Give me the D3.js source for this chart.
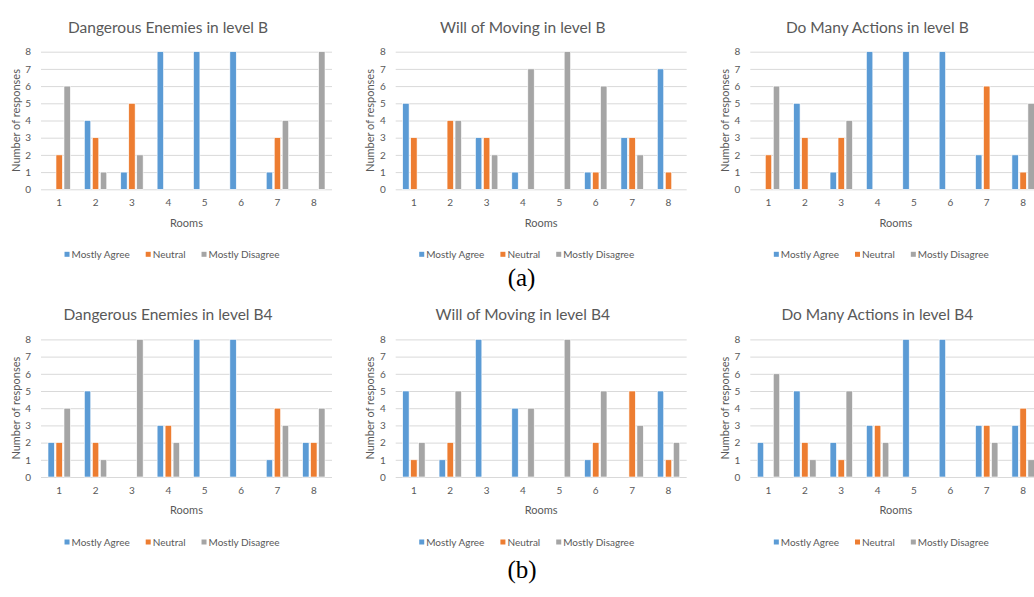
<!DOCTYPE html>
<html>
<head>
<meta charset="utf-8">
<script src="https://cdn.jsdelivr.net/npm/d3@7"></script>
<style>
  body { margin: 0; background: #fff; }
  svg { display: block; }
</style>
</head>
<body>
<svg id="drawing_region"></svg>
<script>
// rooms on x axis and the three answer series
const rooms = ["1", "2", "3", "4", "5", "6", "7", "8"];
const series = ["Mostly Agree", "Neutral", "Mostly Disagree"];
const yticks = [0, 1, 2, 3, 4, 5, 6, 7, 8];

// each panel: [agree, neutral, disagree] per room
const dangerB = [
    [0, 4, 1, 8, 8, 8, 1, 0],
    [2, 3, 5, 0, 0, 0, 3, 0],
    [6, 1, 2, 0, 0, 0, 4, 8]
];
const movingB = [
    [5, 0, 3, 1, 0, 1, 3, 7],
    [3, 4, 3, 0, 0, 1, 3, 1],
    [0, 4, 2, 7, 8, 6, 2, 0]
];
const actionsB = [
    [0, 5, 1, 8, 8, 8, 2, 2],
    [2, 3, 3, 0, 0, 0, 6, 1],
    [6, 0, 4, 0, 0, 0, 0, 5]
];
const dangerB4 = [
    [2, 5, 0, 3, 8, 8, 1, 2],
    [2, 2, 0, 3, 0, 0, 4, 2],
    [4, 1, 8, 2, 0, 0, 3, 4]
];
const movingB4 = [
    [5, 1, 8, 4, 0, 1, 0, 5],
    [1, 2, 0, 0, 0, 2, 5, 1],
    [2, 5, 0, 4, 8, 5, 3, 2]
];
const actionsB4 = [
    [2, 5, 2, 3, 8, 8, 3, 3],
    [0, 2, 1, 3, 0, 0, 3, 4],
    [6, 1, 5, 2, 0, 0, 2, 1]
];

const titles = [
    "Dangerous Enemies in level B", "Will of Moving in level B", "Do Many Actions in level B",
    "Dangerous Enemies in level B4", "Will of Moving in level B4", "Do Many Actions in level B4"
];
const panelData = [dangerB, movingB, actionsB, dangerB4, movingB4, actionsB4];
const colors = ["#5B9BD5", "#ED7D31", "#A5A5A5"];

const FONT = "Lato, 'Open Sans', sans-serif";
const TEXT = "#595959";

const svg = d3.select('#drawing_region')
    .attr('width', 1034)
    .attr('height', 597);

class BarChart {
    constructor(config, data) {
        this.config = config;
        this.data = data;
        this.init();
    }
    init() {
        let self = this;
        self.chart = svg.append('g')
            .attr('transform', `translate(${self.config.left}, ${self.config.top})`);

        self.inner_width = 291;
        self.inner_height = 137.6;

        self.xscale = d3.scaleBand()
            .domain(rooms)
            .range([0, self.inner_width]);

        self.sscale = d3.scaleBand()
            .domain(series)
            .range([0, self.xscale.bandwidth()])
            .paddingInner(0.2)
            .paddingOuter(0.875);

        self.yscale = d3.scaleLinear()
            .domain([0, 8])
            .range([self.inner_height, 0]);
    }
    render() {
        let self = this;

        // grid + tick labels
        const ygrid = self.chart.append('g')
            .call(d3.axisLeft(self.yscale).tickValues(yticks).tickSize(-self.inner_width).tickPadding(10));
        ygrid.select('.domain').remove();
        ygrid.selectAll('line').attr('stroke', '#D9D9D9').attr('stroke-width', 1);
        ygrid.selectAll('text')
            .attr('fill', TEXT)
            .style('font-family', FONT)
            .style('font-size', '10px');

        const xax = self.chart.append('g')
            .attr('transform', `translate(0, ${self.inner_height})`)
            .call(d3.axisBottom(self.xscale).tickSize(0).tickPadding(10));
        xax.select('.domain').remove();
        xax.selectAll('text')
            .attr('fill', TEXT)
            .style('font-family', FONT)
            .style('font-size', '10px');

        // bars
        self.data.forEach((vals, si) => {
            self.chart.selectAll(null)
                .data(vals)
                .enter()
                .append('rect')
                .attr('x', (d, i) => self.xscale(rooms[i]) + self.sscale(series[si]))
                .attr('y', d => self.yscale(d))
                .attr('width', self.sscale.bandwidth())
                .attr('height', d => self.yscale(0) - self.yscale(d))
                .attr('fill', colors[si])
                .attr('stroke', '#fff')
                .attr('stroke-width', 0.6);
        });

        // title
        self.chart.append('text')
            .text(self.config.title)
            .attr('x', 127)
            .attr('y', -25)
            .attr('text-anchor', 'middle')
            .attr('dominant-baseline', 'central')
            .attr('fill', TEXT)
            .style('font-family', FONT)
            .style('font-size', '15.5px');

        // axis titles
        self.chart.append('text')
            .text('Rooms')
            .attr('x', self.inner_width / 2)
            .attr('y', self.inner_height + 33)
            .attr('text-anchor', 'middle')
            .attr('dominant-baseline', 'central')
            .attr('fill', TEXT)
            .style('font-family', FONT)
            .style('font-size', '11px');

        self.chart.append('text')
            .text('Number of responses')
            .attr('transform', `translate(-26, ${self.inner_height / 2}) rotate(-90)`)
            .attr('text-anchor', 'middle')
            .attr('dominant-baseline', 'central')
            .attr('fill', TEXT)
            .style('font-family', FONT)
            .style('font-size', '11px');

        // legend
        const legend = self.chart.append('g')
            .attr('transform', `translate(0, ${self.inner_height + 65})`);
        let lx = 0;
        series.forEach((s, si) => {
            const item = legend.append('g').attr('transform', `translate(${lx}, 0)`);
            item.append('rect')
                .attr('x', 0).attr('y', -2.5)
                .attr('width', 5).attr('height', 5)
                .attr('fill', colors[si]);
            const t = item.append('text')
                .text(s)
                .attr('x', 7)
                .attr('dominant-baseline', 'central')
                .attr('fill', TEXT)
                .style('font-family', FONT)
                .style('font-size', '10px');
            lx += 7 + t.node().getComputedTextLength() + 16;
        });
        const lw = lx - 16;
        legend.attr('transform', `translate(${131 - lw / 2}, ${self.inner_height + 65})`);
    }
}

const lefts = [41, 395.7, 750.3];
const tops = [51.7, 339.4];

panelData.forEach((data, i) => {
    const chart = new BarChart({
        left: lefts[i % 3],
        top: tops[Math.floor(i / 3)],
        title: titles[i]
    }, data);
    chart.render();
});

// sub-figure captions
svg.append('text')
    .text('(a)')
    .attr('x', 521.5).attr('y', 277)
    .attr('text-anchor', 'middle')
    .attr('dominant-baseline', 'central')
    .attr('fill', '#000')
    .style('font-family', "'Liberation Serif', 'DejaVu Serif', serif")
    .style('font-size', '25px');

svg.append('text')
    .text('(b)')
    .attr('x', 522).attr('y', 569)
    .attr('text-anchor', 'middle')
    .attr('dominant-baseline', 'central')
    .attr('fill', '#000')
    .style('font-family', "'Liberation Serif', 'DejaVu Serif', serif")
    .style('font-size', '25px');
</script>
</body>
</html>
